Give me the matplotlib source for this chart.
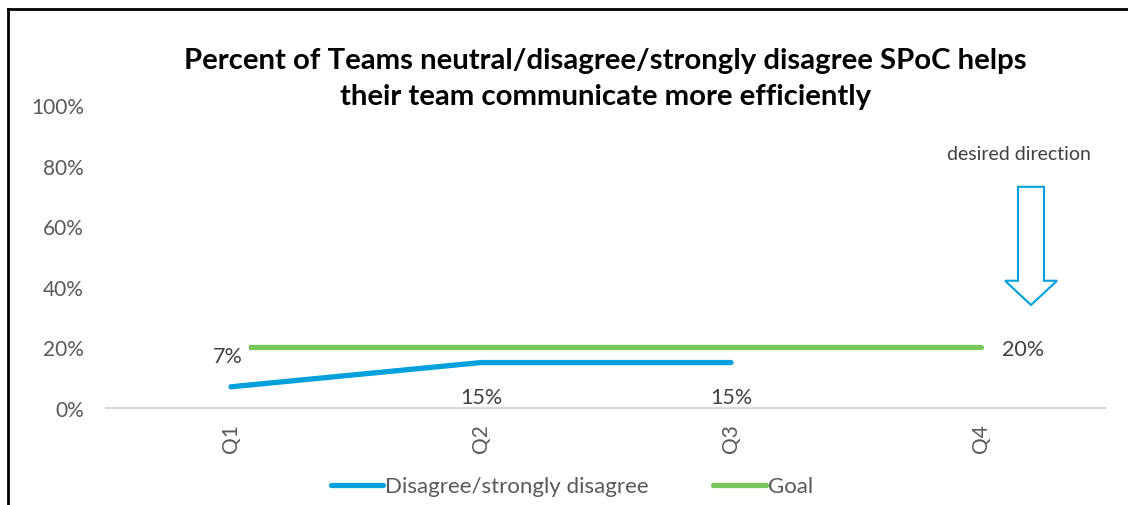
import matplotlib.pyplot as plt
from matplotlib.patches import Polygon
from matplotlib.lines import Line2D

plt.rcParams['font.family'] = ['Lato', 'DejaVu Sans']

quarters = ['Q1', 'Q2', 'Q3', 'Q4']
disagree = [7, 15, 15]
goal = [20, 20, 20, 20]
yticks = [0, 20, 40, 60, 80, 100]

blue = '#00a0dc'
green = '#7ac75c'
gray = '#595959'

fig = plt.figure(figsize=(11.28, 5.06), dpi=100)
ax = fig.add_axes([106/1128, 1 - 409/506, 1000/1128, 303/506])

x = list(range(len(quarters)))
ax.plot(x, goal, color=green, lw=3.8, solid_capstyle='round', zorder=2, label='Goal')
ax.plot(x[:len(disagree)], disagree, color=blue, lw=3.8, solid_capstyle='round',
        zorder=3, label='Disagree/strongly disagree')

# data labels
lab_kw = dict(fontsize=15.5, color='#404040', ha='center', va='center')
ax.annotate(f'{disagree[0]}%', (x[0], disagree[0]), xytext=(-2, 22), textcoords='offset points',
            bbox=dict(facecolor='white', edgecolor='none', pad=4), zorder=4, **lab_kw)
for i in (1, 2):
    ax.annotate(f'{disagree[i]}%', (x[i], disagree[i]), xytext=(0, -25),
                textcoords='offset points', **lab_kw)
ax.annotate(f'{goal[3]}%', (x[3], goal[3]), xytext=(30, -1), textcoords='offset points', **lab_kw)

ax.set_xlim(-0.5, 3.5)
ax.set_ylim(0, 100)
ax.set_xticks(x)
ax.set_xticklabels(quarters, rotation=90, fontsize=15, color=gray)
ax.set_yticks(yticks)
ax.set_yticklabels([f'{v}%' for v in yticks], fontsize=15, color=gray)
ax.tick_params(length=0)
ax.tick_params(axis='y', pad=16)
ax.tick_params(axis='x', pad=11)
for s in ['top', 'right', 'left']:
    ax.spines[s].set_visible(False)
ax.spines['bottom'].set_color('#d9d9d9')
ax.spines['bottom'].set_linewidth(1.5)

# desired direction arrow (outline)
arrow = Polygon([(3.148, 73), (3.252, 73), (3.252, 42), (3.304, 42), (3.2, 34),
                 (3.096, 42), (3.148, 42)], closed=True, facecolor='white',
                edgecolor=blue, lw=1.5, clip_on=False)
ax.add_patch(arrow)
ax.text(3.15, 84, 'desired direction', fontsize=14, color='#404040', ha='center', va='center')

fig.text(0.537, 0.844, 'Percent of Teams neutral/disagree/strongly disagree SPoC helps\ntheir team communicate more efficiently',
         ha='center', va='center', fontsize=21.2, fontweight='bold', linespacing=1.45)

handles = [Line2D([], [], color=blue, lw=3.8, solid_capstyle='round'),
           Line2D([], [], color=green, lw=3.8, solid_capstyle='round')]
fig.legend(handles, ['Disagree/strongly disagree', 'Goal'], loc='center',
           bbox_to_anchor=(0.507, 0.037), ncol=2, frameon=False, fontsize=16,
           labelcolor=gray, handlelength=2.35, handletextpad=0.1, columnspacing=2.9)

# outer border
fig.add_artist(Line2D([8/1128, 8/1128], [0, 1 - 10/506], color='black', lw=2, transform=fig.transFigure))
fig.add_artist(Line2D([8/1128, 1], [1 - 10/506, 1 - 10/506], color='black', lw=2, transform=fig.transFigure))

fig.savefig('out.png', dpi=100)
